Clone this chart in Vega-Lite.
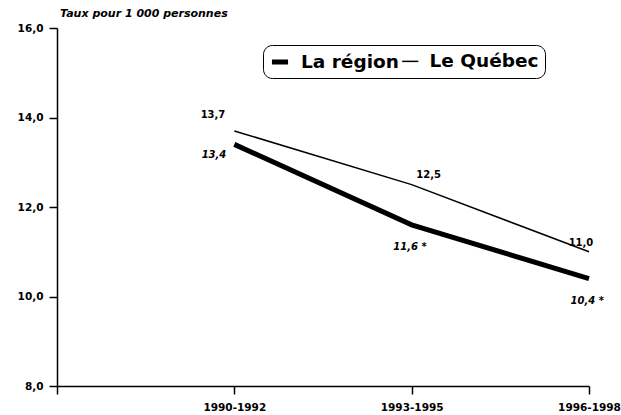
{
  "$schema": "https://vega.github.io/schema/vega-lite/v6.json",
  "width": 532,
  "height": 358,
  "autosize": {"type": "none"},
  "padding": {"left": 57, "top": 28, "right": 32, "bottom": 29},
  "background": "white",
  "config": {
    "font": "DejaVu Sans",
    "view": {"stroke": null},
    "axis": {"labelFont": "DejaVu Sans", "labelFontWeight": "bold", "labelFontSize": 10.5, "labelColor": "black", "domainColor": "black", "tickColor": "black", "grid": false, "title": null},
    "legend": {"strokeColor": "black", "padding": 6, "cornerRadius": 9, "fillColor": "white", "labelFontSize": 18.5, "labelFontWeight": "bold", "labelFont": "DejaVu Sans", "labelColor": "black", "symbolType": "stroke", "symbolSize": 260, "labelOffset": 10, "columnPadding": 0, "symbolStrokeColor": "black"}
  },
  "title": {
    "text": "Taux pour 1 000 personnes",
    "anchor": "start",
    "frame": "group",
    "fontSize": 11,
    "fontStyle": "italic",
    "fontWeight": "bold",
    "font": "DejaVu Sans",
    "color": "black",
    "offset": 4,
    "dx": 3
  },
  "data": {
    "values": [
      {"series": "La région", "period": "1990-1992", "value": 13.4, "label": "13,4"},
      {"series": "La région", "period": "1993-1995", "value": 11.6, "label": "11,6 *"},
      {"series": "La région", "period": "1996-1998", "value": 10.4, "label": "10,4 *"},
      {"series": "Le Québec", "period": "1990-1992", "value": 13.7, "label": "13,7"},
      {"series": "Le Québec", "period": "1993-1995", "value": 12.5, "label": "12,5"},
      {"series": "Le Québec", "period": "1996-1998", "value": 11.0, "label": "11,0"}
    ]
  },
  "encoding": {
    "x": {
      "field": "period",
      "type": "ordinal",
      "scale": {"type": "point", "domain": ["", "1990-1992", "1993-1995", "1996-1998"], "padding": 0},
      "axis": {"labelAngle": 0, "tickSize": 8, "domainWidth": 1.5, "tickWidth": 1.5, "labelPadding": 8}
    },
    "y": {
      "field": "value",
      "type": "quantitative",
      "scale": {"domain": [8, 16], "nice": false, "zero": false},
      "axis": {"values": [8, 10, 12, 14, 16], "labelExpr": "replace(format(datum.value, '.1f'), '.', ',')", "tickSize": 8, "domainWidth": 1.5, "tickWidth": 1.5, "labelPadding": 6}
    }
  },
  "layer": [
    {
      "mark": {"type": "line", "strokeCap": "butt"},
      "encoding": {
        "stroke": {"field": "series", "type": "nominal", "scale": {"domain": ["La région", "Le Québec"], "range": ["black", "black"]},
          "legend": {"orient": "none", "legendX": 206, "legendY": 17, "direction": "horizontal", "title": null}},
        "strokeWidth": {"field": "series", "type": "nominal", "scale": {"domain": ["La région", "Le Québec"], "range": [5, 1.5]},
          "legend": {"orient": "none", "legendX": 206, "legendY": 17, "direction": "horizontal", "title": null}}
      }
    },
    {
      "transform": [{"filter": "datum.series == 'La région' && datum.period == '1990-1992'"}],
      "mark": {"type": "text", "align": "right", "dx": -8, "dy": 11, "fontSize": 10, "fontWeight": "bold", "fontStyle": "italic"},
      "encoding": {"text": {"field": "label"}}
    },
    {
      "transform": [{"filter": "datum.series == 'La région' && datum.period != '1990-1992'"}],
      "mark": {"type": "text", "align": "right", "dx": 15, "dy": 22, "fontSize": 10, "fontWeight": "bold", "fontStyle": "italic"},
      "encoding": {"text": {"field": "label"}}
    },
    {
      "transform": [{"filter": "datum.series == 'Le Québec' && datum.period == '1990-1992'"}],
      "mark": {"type": "text", "align": "right", "dx": -9, "dy": -16, "fontSize": 10, "fontWeight": "bold"},
      "encoding": {"text": {"field": "label"}}
    },
    {
      "transform": [{"filter": "datum.series == 'Le Québec' && datum.period == '1993-1995'"}],
      "mark": {"type": "text", "align": "center", "dx": 17, "dy": -10, "fontSize": 10, "fontWeight": "bold"},
      "encoding": {"text": {"field": "label"}}
    },
    {
      "transform": [{"filter": "datum.series == 'Le Québec' && datum.period == '1996-1998'"}],
      "mark": {"type": "text", "align": "center", "dx": -8, "dy": -9, "fontSize": 10, "fontWeight": "bold"},
      "encoding": {"text": {"field": "label"}}
    }
  ]
}
